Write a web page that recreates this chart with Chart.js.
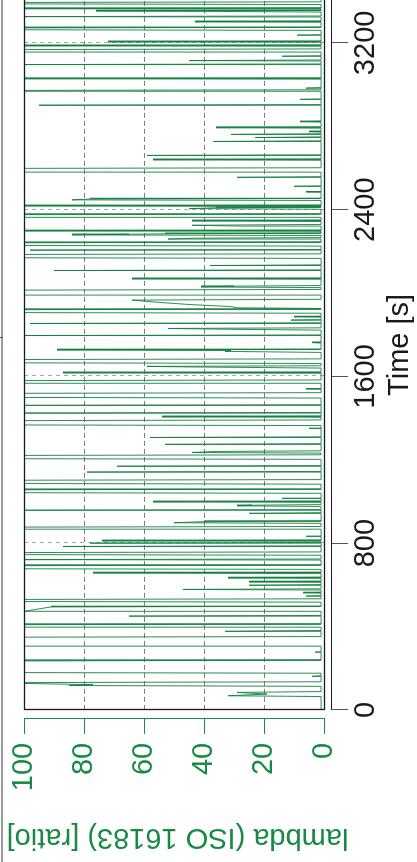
<!DOCTYPE html>
<html>
<head>
<meta charset="utf-8">
<script src="https://cdn.jsdelivr.net/npm/chart.js@4"></script>
<style>
  html, body { margin: 0; padding: 0; background: #fff; overflow: hidden; }
  body { width: 417px; height: 862px; position: relative; }
  #edge { position: absolute; left: 1px; top: 0; width: 2px; height: 862px; background: #9a9a9a; }
  #edge_tick { position: absolute; left: 0; top: 337px; width: 3px; height: 1px; background: #555; }
  /* chart is drawn landscape and turned a quarter turn to the left */
  #wrap { position: absolute; left: 0; top: 0; width: 900px; height: 417px;
          transform-origin: 0 0; transform: translate(0px, 862px) rotate(-90deg); }
</style>
</head>
<body>
<div id="edge"></div>
<div id="edge_tick"></div>
<div id="wrap"><canvas id="lambda_chart" width="900" height="417"></canvas></div>
<script>
// time [s] and lambda [ratio]
var timeS = [
    0, 64, 68, 76, 84, 88, 113, 117, 121, 127, 131, 135, 158, 161, 164,
    176, 179, 235, 239, 275, 277, 279, 303, 306, 349, 352, 374, 377, 381,
    394, 397, 409, 412, 447, 450, 453, 470, 473, 494, 497, 517, 520, 530, 533, 544, 546, 548,
    560, 562, 564, 575, 578, 581, 596, 598, 601, 612, 614, 617, 631, 633, 636, 654, 657, 660,
    674, 677, 692, 695, 719, 721, 724, 742, 745, 755, 758, 782, 784, 787, 798, 800, 803, 809, 811, 814, 830, 832, 834,
    864, 867, 877, 880, 895, 898, 903, 906, 941, 943, 946, 956, 958, 961, 976, 979, 982, 985, 996, 998, 1001, 1012, 1014, 1016,
    1039, 1042, 1056, 1059, 1083, 1086, 1102, 1105, 1139, 1141, 1144, 1167, 1169, 1172,
    1202, 1205, 1221, 1224, 1232, 1235, 1240, 1243, 1272, 1274, 1277, 1305, 1307, 1310, 1348, 1350, 1352,
    1364, 1367, 1388, 1391, 1404, 1406, 1409, 1421, 1424, 1427, 1459, 1461, 1464, 1496, 1499, 1519, 1522, 1538, 1540, 1542,
    1564, 1567, 1580, 1583, 1615, 1617, 1620, 1640, 1645, 1648, 1651, 1662, 1665, 1681, 1684,
    1715, 1720, 1724, 1727, 1730, 1760, 1762, 1764, 1794, 1796, 1799, 1822, 1826, 1830, 1833, 1852, 1854, 1857,
    1868, 1870, 1872, 1884, 1886, 1888, 1903, 1906, 1920, 1923, 1926, 1929, 1935, 1945, 1955, 1966, 1970,
    1987, 1990, 2014, 2017, 2026, 2029, 2033, 2036, 2066, 2068, 2071, 2106, 2108, 2111, 2130, 2132, 2135,
    2166, 2169, 2185, 2188, 2204, 2206, 2209, 2225, 2228, 2241, 2244, 2256, 2259, 2263, 2266,
    2276, 2279, 2282, 2284, 2287, 2296, 2298, 2301, 2318, 2321, 2325, 2329, 2343, 2346, 2349,
    2360, 2363, 2376, 2379, 2402, 2405, 2409, 2412, 2415, 2418, 2421, 2444, 2447, 2451, 2454,
    2483, 2485, 2487, 2510, 2512, 2514, 2553, 2555, 2558, 2577, 2580, 2598, 2601, 2637, 2639, 2642, 2658, 2660, 2663,
    2725, 2727, 2730, 2744, 2746, 2749, 2759, 2761, 2764, 2772, 2774, 2776, 2791, 2793, 2796, 2820, 2822, 2824,
    2899, 2901, 2904, 2927, 2929, 2931, 2966, 2968, 2972, 2975, 2981, 2983, 2985, 3026, 3028, 3031,
    3094, 3096, 3099, 3113, 3115, 3118, 3134, 3136, 3138, 3153, 3156, 3168, 3171, 3184, 3186, 3189, 3203, 3205, 3208, 3235, 3237, 3239,
    3260, 3263, 3272, 3275, 3299, 3301, 3304, 3324, 3326, 3329, 3348, 3351, 3353, 3356, 3362, 3364, 3367, 3384, 3387, 3394, 3397, 3420
];
var lambdaRatio = [
    1, 1, 32, 19, 29, 1, 1, 85, 77, 100, 100, 1, 1, 4, 1,
    1, 100, 100, 1, 1, 3, 1, 1, 100, 100, 1, 1, 33, 1,
    1, 100, 100, 1, 1, 65, 1, 1, 100, 91, 1, 1, 100, 100, 1, 1, 6, 1,
    1, 7, 1, 1, 47, 1, 1, 25, 1, 1, 25, 1, 1, 32, 1, 1, 77, 1,
    1, 100, 100, 1, 1, 100, 1, 1, 100, 100, 1, 1, 87, 1, 1, 78, 1, 1, 74, 1, 1, 6, 1,
    1, 100, 100, 1, 1, 50, 40, 1, 1, 25, 1, 1, 100, 1, 1, 29, 24, 1, 1, 57, 1, 1, 14, 1,
    1, 100, 100, 1, 1, 100, 100, 1, 1, 79, 1, 1, 69, 1,
    1, 100, 100, 1, 1, 44, 36, 1, 1, 53, 1, 1, 58, 1, 1, 5, 1,
    1, 100, 100, 1, 1, 54, 1, 1, 100, 1, 1, 100, 1, 1, 100, 100, 1, 1, 6, 1,
    1, 100, 100, 1, 1, 87, 1, 1, 42, 59, 1, 1, 100, 100, 1,
    1, 33, 31, 89, 1, 1, 4, 1, 1, 100, 1, 1, 31, 52, 1, 1, 98, 1,
    1, 11, 1, 1, 10, 1, 1, 100, 100, 1, 1, 29, 31, 45, 55, 64, 1,
    1, 100, 100, 1, 1, 41, 30, 1, 1, 64, 1, 1, 90, 1, 1, 38, 1,
    1, 100, 100, 1, 1, 98, 1, 1, 100, 100, 1, 1, 52, 43, 1,
    1, 84, 65, 53, 1, 1, 100, 1, 1, 28, 44, 1, 1, 44, 1,
    1, 100, 100, 1, 1, 45, 36, 1, 1, 100, 1, 1, 84, 78, 1,
    1, 6, 1, 1, 10, 1, 1, 29, 1, 1, 100, 100, 1, 1, 57, 1, 1, 59, 1,
    1, 37, 1, 1, 23, 1, 1, 31, 1, 1, 5, 1, 1, 36, 1, 1, 8, 1,
    1, 95, 1, 1, 8, 1, 1, 100, 100, 1, 1, 6, 1, 1, 100, 1,
    1, 100, 1, 1, 45, 1, 1, 14, 1, 1, 100, 100, 1, 1, 100, 1, 1, 72, 1, 1, 9, 1,
    1, 100, 100, 1, 1, 43, 1, 1, 100, 1, 1, 37, 76, 1, 1, 100, 1, 1, 100, 100, 1, 1
];
var timeTicks = [0, 800, 1600, 2400, 3200];
var lambdaTicks = [0, 20, 40, 60, 80, 100];
var timeMax = 3540;

var green = '#178a44';
var lineGreen = '#13803f';
var labelFont = { family: 'Liberation Sans', size: 29, lineHeight: 1.0 };
var titleFont = { family: 'Liberation Sans', size: 29, lineHeight: 1.17 };

// frame, offset axis lines and dashed grid
var framePlugin = {
    id: 'frame',
    beforeDatasetsDraw: function (chart)
    {
        var ctx = chart.ctx, x = chart.scales.x, y = chart.scales.y;
        var x0 = x.getPixelForValue(0), x1 = x.getPixelForValue(timeMax);
        var yTop = y.getPixelForValue(100), yBot = y.getPixelForValue(0);
        ctx.save();
        ctx.lineWidth = 1;
        ctx.setLineDash([5, 3]);
        ctx.strokeStyle = '#7d7d7d';
        lambdaTicks.slice(1, -1).forEach(function (v)
        {
            var py = Math.round(y.getPixelForValue(v)) + 0.5;
            ctx.beginPath(); ctx.moveTo(x0, py); ctx.lineTo(x1, py); ctx.stroke();
        });
        ctx.setLineDash([4, 4]);
        ctx.strokeStyle = '#a8a8a8';
        timeTicks.slice(1).forEach(function (v)
        {
            var px = Math.round(x.getPixelForValue(v)) + 0.5;
            ctx.beginPath(); ctx.moveTo(px, yTop); ctx.lineTo(px, yBot); ctx.stroke();
        });
        ctx.restore();
    },
    afterDatasetsDraw: function (chart)
    {
        var ctx = chart.ctx, x = chart.scales.x, y = chart.scales.y, area = chart.chartArea;
        var x0 = Math.round(x.getPixelForValue(0)) + 0.5, x1 = x.getPixelForValue(timeMax);
        var yTop = Math.round(y.getPixelForValue(100)) + 0.5, yBot = Math.round(y.getPixelForValue(0)) + 0.5;
        ctx.save();
        ctx.lineWidth = 1.3;
        ctx.strokeStyle = '#1a1a1a';
        ctx.strokeRect(x0, yTop, x1 - x0, yBot - yTop);
        // time axis
        ctx.lineWidth = 1;
        var ay = Math.round(area.bottom) + 0.5;
        ctx.beginPath(); ctx.moveTo(x0, ay); ctx.lineTo(x1, ay); ctx.stroke();
        // lambda axis
        ctx.strokeStyle = green;
        var ax = Math.round(area.left) - 0.5;
        ctx.beginPath(); ctx.moveTo(ax, yTop); ctx.lineTo(ax, yBot); ctx.stroke();
        ctx.restore();
    }
};

var points = timeS.map(function (t, i) { return { x: t, y: lambdaRatio[i] }; });

new Chart(document.getElementById('lambda_chart'),
    {
        type: 'line',
        data:
        {
            datasets: [
                {
                    data: points,
                    borderColor: lineGreen,
                    borderWidth: 0.9,
                    pointRadius: 0,
                    tension: 0
                }
            ]
        },
        options:
        {
            responsive: false,
            animation: false,
            devicePixelRatio: 1,
            layout: { padding: { left: 8, top: 24, right: 10, bottom: 0 } },
            plugins: { legend: { display: false }, tooltip: { enabled: false } },
            scales:
            {
                x:
                {
                    type: 'linear',
                    min: -38,
                    max: timeMax,
                    afterBuildTicks: function (s) { s.ticks = timeTicks.map(function (v) { return { value: v }; }); },
                    grid: { drawOnChartArea: false, tickLength: 17, color: '#555' },
                    border: { display: false },
                    ticks: { font: labelFont, color: '#1a1a1a', padding: 3, maxRotation: 0, autoSkip: false,
                             callback: function (v) { return String(v); } },
                    title: { display: true, text: 'Time [s]', font: titleFont, color: '#1a1a1a', padding: { top: 0, bottom: 0 } }
                },
                y:
                {
                    type: 'linear',
                    min: -2.33,
                    max: 100,
                    afterBuildTicks: function (s) { s.ticks = lambdaTicks.map(function (v) { return { value: v }; }); },
                    grid: { drawOnChartArea: false, tickLength: 16, color: green },
                    border: { display: false },
                    ticks: { font: labelFont, color: green, padding: 9, callback: function (v) { return String(v); } },
                    title: { display: true, text: 'lambda (ISO 16183) [ratio]', font: { family: 'Liberation Sans', size: 29, lineHeight: 1.2 }, color: green, padding: { top: 0, bottom: 19 } }
                }
            }
        },
        plugins: [framePlugin]
    });
</script>
</body>
</html>
